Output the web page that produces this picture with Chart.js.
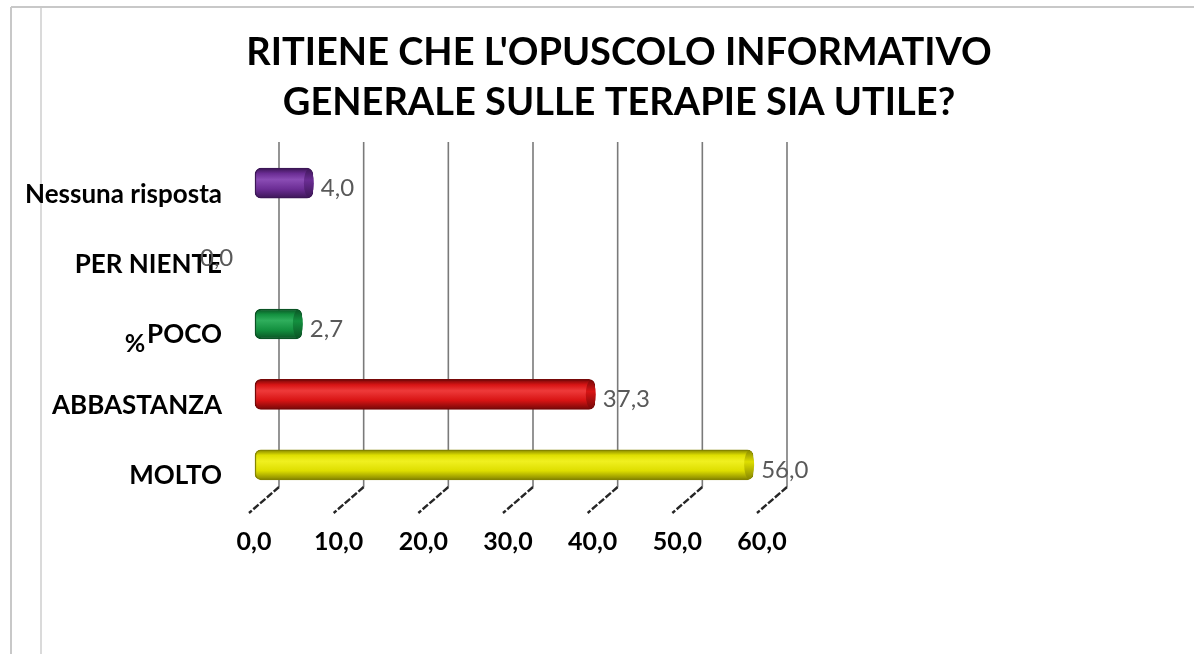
<!DOCTYPE html>
<html>
<head>
<meta charset="utf-8">
<script src="https://cdn.jsdelivr.net/npm/chart.js@4/dist/chart.umd.min.js"></script>
<style>
html,body{margin:0;padding:0;background:#fff;}
#wrap{width:1194px;height:654px;}
</style>
</head>
<body>
<div id="wrap"><canvas id="c" width="1194" height="654"></canvas></div>
<script>
// ---- data ----
const titleLines = ["RITIENE CHE L'OPUSCOLO INFORMATIVO", "GENERALE SULLE TERAPIE SIA UTILE?"];
const categories = ['Nessuna risposta', 'PER NIENTE', 'POCO', 'ABBASTANZA', 'MOLTO'];
const values = [4.0, 0.0, 2.7, 37.3, 56.0];
const axisMin = 0, axisMax = 60, axisStep = 10;
const yAxisTitle = '%';
const barMain = ['#6b2d94', '#6b2d94', '#13903f', '#d81414', '#dede00'];
const barLight = ['#8a4cb4', '#8a4cb4', '#2fae5c', '#ee3a3a', '#f0f020'];
const barDark = ['#3c1656', '#3c1656', '#0a5224', '#760808', '#858500'];

const fmt = v => Number(v).toFixed(1).replace('.', ',');
const DEPTH = 24;

const framePlugin = {
  id: 'frame',
  beforeDraw(chart) {
    const c = chart.ctx;
    c.save();
    c.fillStyle = '#fff';
    c.fillRect(0, 0, chart.width, chart.height);
    c.strokeStyle = '#c8c8c8';
    c.lineWidth = 2;
    c.beginPath();
    c.moveTo(11, 7); c.lineTo(chart.width, 7);
    c.moveTo(11, 7); c.lineTo(11, chart.height);
    c.stroke();
    c.strokeStyle = '#dadada';
    c.beginPath();
    c.moveTo(41, 8); c.lineTo(41, chart.height);
    c.stroke();
    // chart title
    c.fillStyle = '#000';
    c.font = 'bold 38px Lato';
    c.textAlign = 'center';
    c.textBaseline = 'middle';
    titleLines.forEach((t, k) => c.fillText(t, 619, 53 + k * 50));
    c.restore();
  },
  beforeDatasetsDraw(chart) {
    const c = chart.ctx, xs = chart.scales.x;
    c.save();
    for (let v = axisMin; v <= axisMax; v += axisStep) {
      const x = xs.getPixelForValue(v);
      c.strokeStyle = '#7a7a7a';
      c.lineWidth = 1.6;
      c.beginPath();
      c.moveTo(x, 142); c.lineTo(x, 487);
      c.stroke();
      c.strokeStyle = '#262626';
      c.lineWidth = 2.4;
      c.setLineDash([7, 2]);
      c.beginPath();
      c.moveTo(x, 487); c.lineTo(x - 30, 513);
      c.stroke();
      c.setLineDash([]);
    }
    // y axis title
    c.fillStyle = '#000';
    c.font = 'bold 25px Lato';
    c.textAlign = 'center';
    c.textBaseline = 'middle';
    c.fillText(yAxisTitle, 135, 344);
    c.restore();
    // 3D depth: bars start at the front plane, left of the zero line
    const zero = xs.getPixelForValue(0);
    chart.getDatasetMeta(0).data.forEach((el, i) => {
      if (values[i] > 0) el.base = zero - DEPTH;
    });
  },
  afterDatasetsDraw(chart) {
    const c = chart.ctx;
    const meta = chart.getDatasetMeta(0);
    c.save();
    meta.data.forEach((el, i) => {
      const h = el.height;
      if (values[i] > 0) {
        const g = c.createLinearGradient(0, el.y - h / 2, 0, el.y + h / 2);
        g.addColorStop(0, barDark[i]);
        g.addColorStop(0.4, barMain[i]);
        g.addColorStop(1, barDark[i]);
        c.fillStyle = g;
        c.beginPath();
        c.ellipse(el.x - 4, el.y, 5, h / 2 - 1, 0, 0, Math.PI * 2);
        c.fill();
      }
      c.fillStyle = '#595959';
      c.font = '24px Lato';
      c.textAlign = 'left';
      c.textBaseline = 'middle';
      const tx = values[i] === 0 ? el.x - 79 : el.x + 8;
      c.fillText(fmt(values[i]), tx, el.y + 5);
    });
    c.restore();
  }
};

function barGradient(ctx) {
  const chart = ctx.chart;
  const i = ctx.dataIndex;
  const ys = chart.scales.y;
  if (!ys || ys.top === undefined) return barMain[i];
  const y = ys.getPixelForValue(i);
  const g = chart.ctx.createLinearGradient(0, y - 15, 0, y + 15);
  g.addColorStop(0, barDark[i]);
  g.addColorStop(0.18, barMain[i]);
  g.addColorStop(0.38, barLight[i]);
  g.addColorStop(0.7, barMain[i]);
  g.addColorStop(1, barDark[i]);
  return g;
}

new Chart(document.getElementById('c'), {
  type: 'bar',
  data: {
    labels: categories,
    datasets: [{
      data: values,
      backgroundColor: barGradient,
      borderColor: barDark,
      borderWidth: 1.5,
      borderRadius: 6,
      borderSkipped: false,
      barThickness: 30,
      clip: false
    }]
  },
  options: {
    indexAxis: 'y',
    responsive: false,
    animation: false,
    layout: { padding: { left: 0, right: 0, top: 148, bottom: 0 } },
    plugins: {
      legend: { display: false },
      tooltip: { enabled: false },
      title: { display: false }
    },
    scales: {
      x: {
        type: 'linear',
        min: axisMin, max: axisMax,
        afterFit: s => { s.height = 154; },
        grid: { display: false, drawTicks: false },
        border: { display: false },
        ticks: {
          stepSize: axisStep,
          padding: 27,
          labelOffset: -25,
          color: '#000',
          font: { family: 'Lato', weight: 'bold', size: 25 },
          callback: v => fmt(v)
        }
      },
      y: {
        type: 'category',
        afterFit: s => { s.width = 279; },
        grid: { display: false, drawTicks: false },
        border: { display: false },
        ticks: {
          padding: 57,
          labelOffset: 11,
          color: '#000',
          font: { family: 'Lato', weight: 'bold', size: 26 }
        }
      },
      yR: {
        type: 'category',
        position: 'right',
        afterFit: s => { s.width = 407; },
        grid: { display: false, drawTicks: false },
        border: { display: false },
        ticks: { display: false }
      }
    }
  },
  plugins: [framePlugin]
});
</script>
</body>
</html>
